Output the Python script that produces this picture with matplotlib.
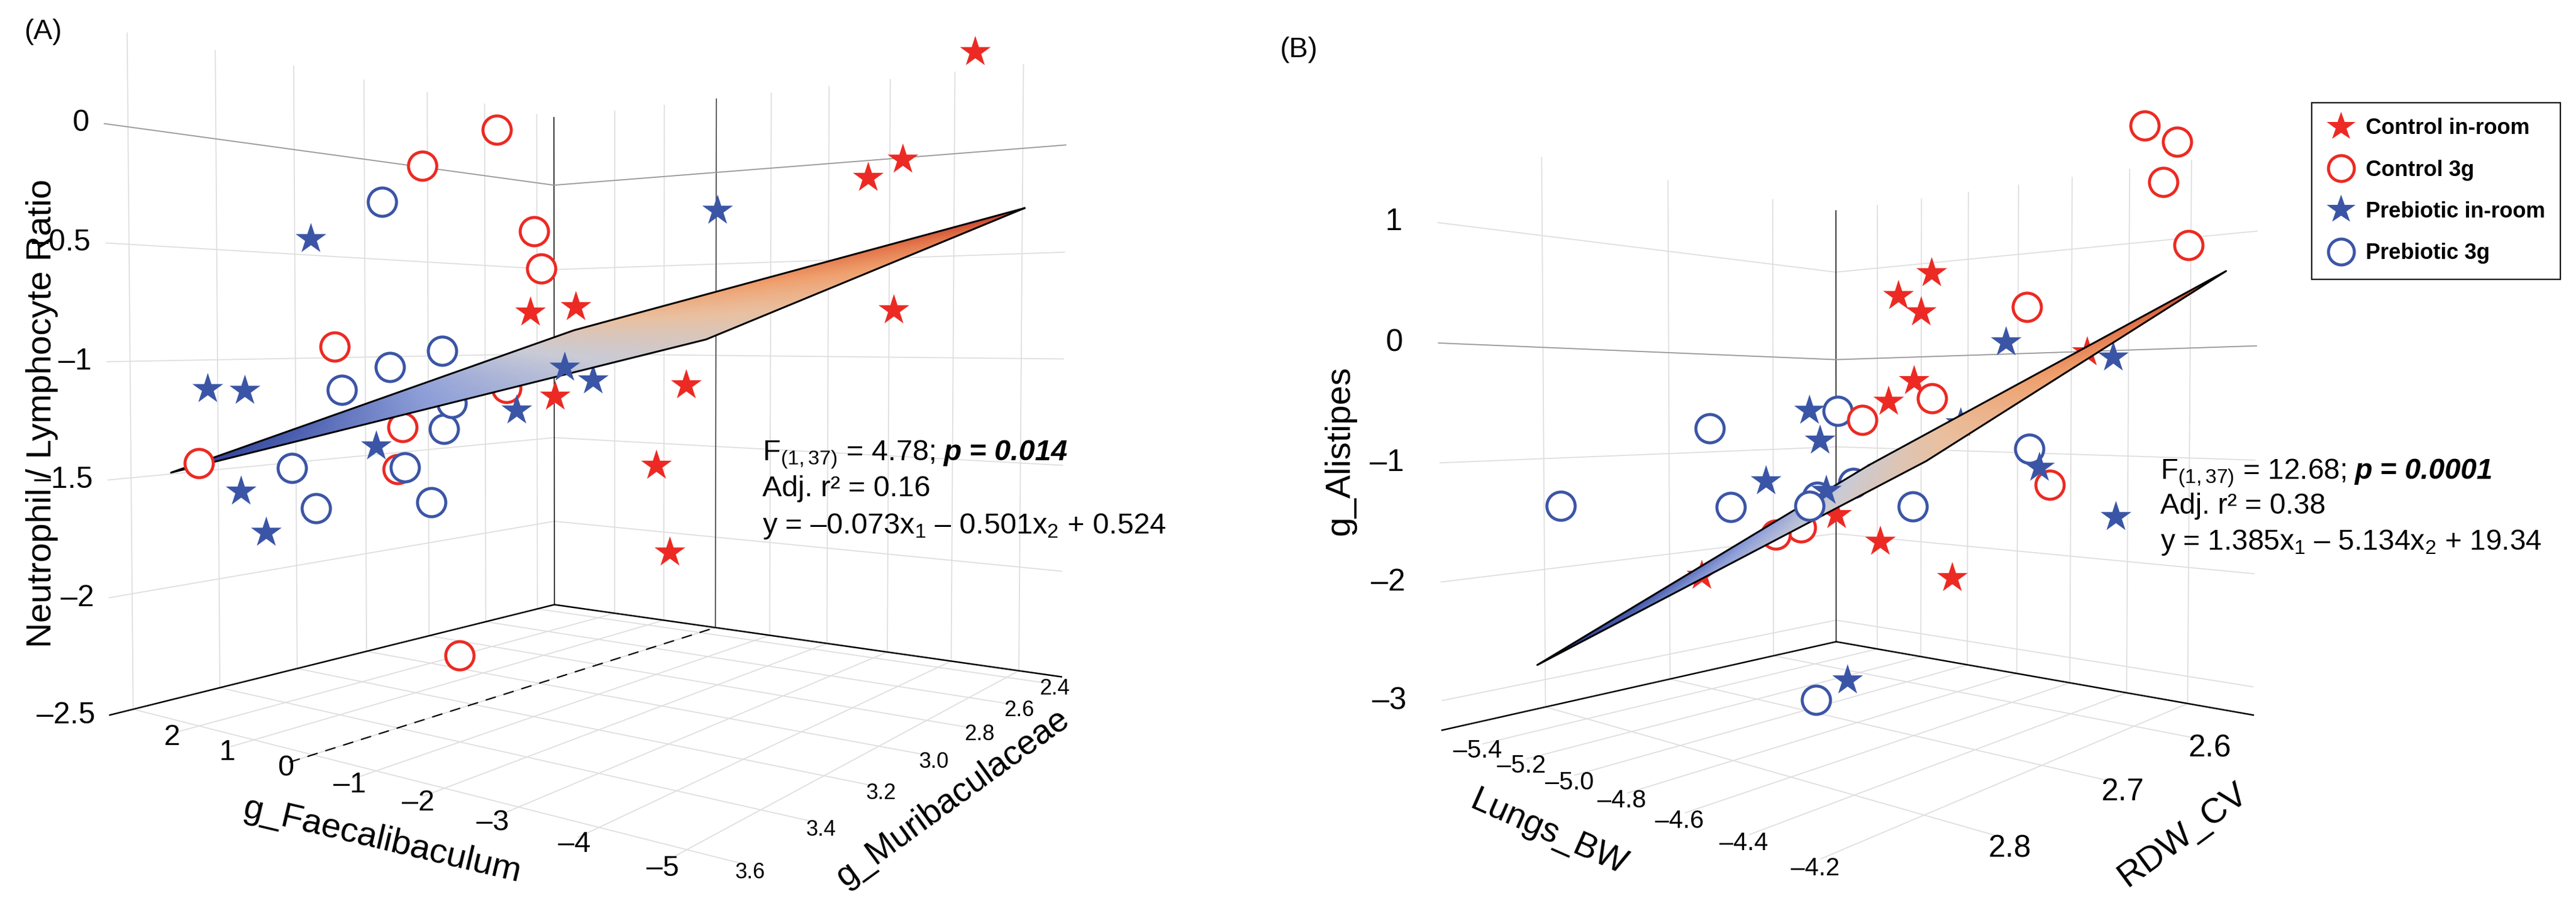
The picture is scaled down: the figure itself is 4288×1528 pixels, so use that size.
import numpy as np
import matplotlib
matplotlib.use('Agg')
import matplotlib.pyplot as plt
from matplotlib.colors import LinearSegmentedColormap, Normalize
from matplotlib.lines import Line2D
from matplotlib.ticker import FuncFormatter

plt.rcParams['font.family'] = ['Liberation Sans', 'DejaVu Sans']
plt.rcParams['mathtext.fontset'] = 'custom'
plt.rcParams['mathtext.rm'] = 'Liberation Sans'
plt.rcParams['mathtext.it'] = 'Liberation Sans:italic'
plt.rcParams['mathtext.bf'] = 'Liberation Sans:bold'

# ------------------------------------------------------------------ data
groups = ['Control in-room', 'Control 3g', 'Prebiotic in-room', 'Prebiotic 3g']

# Panel A : x1 = g_Faecalibaculum, x2 = g_Muribaculaceae, y = Neutrophil / Lymphocyte Ratio
a_ctrl_room_faec = [0.58, 0.45, -0.23, -4.49, -3.82, -3.50, -4.32, -2.89, -3.06, -3.87]
a_ctrl_room_murib = [2.92, 2.79, 2.99, 2.40, 2.53, 2.59, 2.73, 3.12, 3.25, 3.39]
a_ctrl_room_nlr = [-0.78, -0.75, -1.17, 0.45, -0.07, -0.16, -0.78, -1.09, -1.39, -1.66]

a_ctrl_3g_faec = [2.29, 2.64, 0.84, 0.01, 2.14, 0.23, 0.43, 1.88, 0.52, -1.73]
a_ctrl_3g_murib = [2.73, 2.92, 2.86, 2.99, 3.25, 3.06, 3.32, 3.61, 3.32, 3.52]
a_ctrl_3g_nlr = [0.19, -0.03, -0.38, -0.58, -0.94, -1.13, -1.28, -1.41, -1.46, -2.07]

a_preb_room_faec = [2.37, 1.96, 1.77, -3.17, 0.14, -0.29, 0.41, 1.36, 0.68, -1.11]
a_preb_room_murib = [3.28, 3.58, 3.52, 3.52, 2.79, 3.12, 3.39, 3.58, 3.61, 2.59]
a_preb_room_nlr = [-0.45, -1.11, -1.12, -1.00, -1.11, -1.22, -1.35, -1.52, -1.66, -0.27]

a_preb_3g_faec = [2.53, 1.01, 1.11, 1.51, 0.04, 0.98, 1.47, 0.52, -0.46, -0.88]
a_preb_3g_murib = [3.06, 3.12, 3.25, 3.32, 3.25, 3.12, 3.45, 3.52, 3.45, 3.45]
a_preb_3g_nlr = [-0.24, -0.96, -1.03, -1.13, -1.18, -1.32, -1.45, -1.58, -1.41, -1.54]

# fitted plane (panel A): y = b1*x1 + b2*x2 + b0
a_coef = (-0.073, -0.501, 0.524)
a_plane_faec = [-5.2, 2.5]
a_plane_murib = [2.4, 3.6]

# Panel B : x1 = Lungs_BW, x2 = RDW_CV, y = g_Alistipes
b_ctrl_room_lungs = [-4.65, -4.73, -4.76, -4.60, -4.61, -4.27, -4.75, -4.52, -4.23, -5.02]
b_ctrl_room_rdw = [2.67, 2.68, 2.65, 2.70, 2.72, 2.63, 2.73, 2.75, 2.77, 2.78]
b_ctrl_room_ali = [0.61, 0.42, 0.31, -0.32, -0.49, -0.08, -1.42, -1.56, -1.72, -1.92]

b_ctrl_3g_lungs = [-4.18, -4.13, -4.10, -4.14, -4.40, -4.54, -4.70, -4.79, -4.79, -4.24]
b_ctrl_3g_rdw = [2.60, 2.58, 2.61, 2.56, 2.65, 2.70, 2.72, 2.77, 2.75, 2.68]
b_ctrl_3g_ali = [1.82, 1.71, 1.30, 0.87, 0.30, -0.46, -0.64, -1.54, -1.51, -1.14]

b_preb_room_lungs = [-4.53, -4.27, -5.07, -4.94, -4.55, -4.21, -4.92, -4.83, -4.13, -4.42]
b_preb_room_rdw = [2.63, 2.60, 2.68, 2.70, 2.67, 2.70, 2.75, 2.72, 2.65, 2.80]
b_preb_room_ali = [0.03, -0.11, -0.57, -0.83, -0.67, -0.99, -1.15, -1.24, -1.40, -2.45]

b_preb_3g_lungs = [-5.00, -5.25, -5.25, -4.30, -5.06, -4.85, -5.39, -5.31, -4.53, -4.43]
b_preb_3g_rdw = [2.67, 2.73, 2.84, 2.68, 2.75, 2.73, 2.60, 2.58, 2.72, 2.82]
b_preb_3g_ali = [-0.57, -0.73, -1.33, -0.86, -1.39, -1.36, -1.48, -1.34, -1.32, -2.54]

b_coef = (1.385, -5.134, 19.34)
b_plane_lungs = [-5.36, -4.05]
b_plane_rdw = [2.55, 2.84]

# axis ticks
a_faec_ticks = [2, 1, 0, -1, -2, -3, -4, -5]
a_murib_ticks = [2.4, 2.6, 2.8, 3.0, 3.2, 3.4, 3.6]
a_nlr_ticks = [-2.5, -2, -1.5, -1, -0.5, 0]
b_lungs_ticks = [-5.4, -5.2, -5.0, -4.8, -4.6, -4.4, -4.2]
b_rdw_ticks = [2.6, 2.7, 2.8]
b_ali_ticks = [-3, -2, -1, 0, 1]

# ------------------------------------------------------------------ style
RED = '#EC2A23'
BLUE = '#3B55A6'
group_style = [('*', RED, True), ('o', RED, False), ('*', BLUE, True), ('o', BLUE, False)]
plane_cmap = LinearSegmentedColormap.from_list(
    'plane', ['#25348a', '#4b5fb0', '#8e9fd8', '#c9cbd6', '#e9c0a0',
              '#efa06e', '#e27449', '#c43b2c'])
GRID = '#dedede'

W, H = 4288, 1528
fig = plt.figure(figsize=(W / 100, H / 100), dpi=100)
fig.patch.set_facecolor('white')


def rect(cx, cy, S):
    return [(cx - S / 2) / W, 1 - (cy + S / 2) / H, S / W, S / H]


def px_text(x, y, s, **kw):
    return fig.text(x / W, 1 - y / H, s, **kw)


def fmt_g(v, p):
    return ('%g' % v).replace('-', '\u2013')


def fmt_1(v, p):
    return ('%.1f' % v).replace('-', '\u2013')


def style_axes(ax, lims, aspect, elev, azim, focal, zoom):
    ax.set_xlim(*lims[0])
    ax.set_ylim(*lims[1])
    ax.set_zlim(*lims[2])
    ax.set_box_aspect(aspect, zoom=zoom)
    ax.view_init(elev=elev, azim=azim)
    ax.set_proj_type('persp', focal_length=focal)
    for axis in (ax.xaxis, ax.yaxis, ax.zaxis):
        axis.set_pane_color((1, 1, 1, 1))
        axis.pane.set_edgecolor((1, 1, 1, 0))
        axis.line.set_color((0, 0, 0, 0))
        axis._axinfo['grid'].update({'color': GRID, 'linewidth': 1.3, 'linestyle': '-'})
        axis._axinfo['tick']['inward_factor'] = 0.0
        axis._axinfo['tick']['outward_factor'] = 0.0


def align_ticklabels(ax):
    for lab in ax.get_zticklabels():
        lab.set_horizontalalignment('right')
        lab.set_verticalalignment('center')
    for lab in list(ax.get_xticklabels()) + list(ax.get_yticklabels()):
        lab.set_verticalalignment('center')


def draw_points(ax, pts, lims, aspect, elev, azim, plane_fn):
    # pts: list of (x, y, z, group_index)
    e = np.array([np.cos(np.radians(elev)) * np.cos(np.radians(azim)),
                  np.cos(np.radians(elev)) * np.sin(np.radians(azim)),
                  np.sin(np.radians(elev))])
    asp = np.array(aspect, float)
    def depth(p):
        n = np.array([(p[i] - lims[i][0]) / (lims[i][1] - lims[i][0]) * asp[i] for i in range(3)])
        return float(n @ e)
    order = sorted(range(len(pts)), key=lambda k: depth(pts[k]))
    for rank, k in enumerate(order):
        x, y, z, g = pts[k]
        marker, col, filled = group_style[g]
        behind = z < plane_fn(x, y)
        zo = (2.0 if behind else 4.0) + rank * 1e-3
        if filled:
            ax.scatter([x], [y], [z], marker=marker, s=1500, c=col, edgecolors='none',
                       depthshade=False, zorder=zo)
        else:
            ax.scatter([x], [y], [z], marker=marker, s=1150, facecolors='white',
                       edgecolors=col, linewidths=3.6, depthshade=False, zorder=zo)


def draw_plane(ax, xr, yr, plane_fn):
    xs = np.linspace(xr[0], xr[1], 50)
    ys = np.linspace(yr[0], yr[1], 50)
    X, Y = np.meshgrid(xs, ys)
    Z = plane_fn(X, Y)
    norm = Normalize(Z.min(), Z.max())
    ax.plot_surface(X, Y, Z, facecolors=plane_cmap(norm(Z)), rstride=1, cstride=1,
                    shade=False, linewidth=0, antialiased=False, zorder=3)
    cx = [xr[0], xr[1], xr[1], xr[0], xr[0]]
    cy = [yr[0], yr[0], yr[1], yr[1], yr[0]]
    ax.plot(cx, cy, [plane_fn(a, b) for a, b in zip(cx, cy)], color='black', lw=2.2, zorder=3.5)


# ================================================================== Panel A
axA = fig.add_axes(rect(993, 642, 1750), projection='3d', computed_zorder=False)
limsA = [(-5.6, 3.3), (2.33, 3.65), (-2.5, 0.4)]
aspA = (1.05, 1.05, 1.0)
elA, azA = 1.5, 126
style_axes(axA, limsA, aspA, elA, azA, 0.25, 1.076)
planeA = lambda x, y: a_coef[0] * x + a_coef[1] * y + a_coef[2]

axA.set_xticks(a_faec_ticks)
axA.set_yticks(a_murib_ticks)
axA.set_zticks(a_nlr_ticks)
axA.xaxis.set_major_formatter(FuncFormatter(fmt_g))
axA.yaxis.set_major_formatter(FuncFormatter(fmt_1))
axA.zaxis.set_major_formatter(FuncFormatter(fmt_g))
axA.zaxis.set_ticks_position('upper')
axA.tick_params(axis='x', labelsize=35, pad=-4)
axA.tick_params(axis='y', labelsize=26, pad=-3)
axA.tick_params(axis='z', labelsize=36, pad=1)
align_ticklabels(axA)

# box lines
x0, x1_ = limsA[0]; y0, y1_ = limsA[1]; z0, z1_ = limsA[2]
axA.plot([x1_, x1_], [y1_, y0], [z0, z0], color='black', lw=1.8, zorder=1.5)
axA.plot([x1_, x0], [y0, y0], [z0, z0], color='black', lw=1.8, zorder=1.5)
axA.plot([x1_, x1_], [y0, y0], [z0, z1_], color='black', lw=1.1, zorder=1.5)
axA.plot([0, 0], [y0, y0], [z0, z1_], color='#333333', lw=1.1, zorder=1.5)
axA.plot([0, 0], [y1_, y0], [z0, z0], color='black', lw=1.6, ls=(0, (8, 6)), zorder=1.5)
axA.plot([x1_, x1_, x0], [y1_, y0, y0], [0, 0, 0], color='#9a9a9a', lw=1.3, zorder=1.5)

draw_plane(axA, a_plane_faec, a_plane_murib, planeA)
ptsA = []
for g, (xs, ys, zs) in enumerate([(a_ctrl_room_faec, a_ctrl_room_murib, a_ctrl_room_nlr),
                                   (a_ctrl_3g_faec, a_ctrl_3g_murib, a_ctrl_3g_nlr),
                                   (a_preb_room_faec, a_preb_room_murib, a_preb_room_nlr),
                                   (a_preb_3g_faec, a_preb_3g_murib, a_preb_3g_nlr)]):
    ptsA += [(a, b, c, g) for a, b, c in zip(xs, ys, zs)]
draw_points(axA, ptsA, limsA, aspA, elA, azA, planeA)

# axis titles (placed along the projected axes)
px_text(636, 1399, 'g_Faecalibaculum', fontsize=42, rotation=-13.3, ha='center', va='center',
        rotation_mode='anchor')
px_text(1586, 1328, 'g_Muribaculaceae', fontsize=41, rotation=36, ha='center', va='center',
        rotation_mode='anchor')
px_text(70, 688, 'Neutrophil / Lymphocyte Ratio', fontsize=42, rotation=90, ha='center',
        va='center', rotation_mode='anchor')

# ================================================================== Panel B
axB = fig.add_axes(rect(3068, 748, 1750), projection='3d', computed_zorder=False)
limsB = [(2.53, 2.87), (-5.6, -4.0), (-3.25, 1.7)]   # x = RDW_CV, y = Lungs_BW
aspB = (1.0, 1.0, 1.0)
elB, azB = 1.5, 41
style_axes(axB, limsB, aspB, elB, azB, 0.21, 0.925)
planeB = lambda rdw, lungs: b_coef[0] * lungs + b_coef[1] * rdw + b_coef[2]

axB.set_xticks(b_rdw_ticks)
axB.set_yticks(b_lungs_ticks)
axB.set_zticks(b_ali_ticks)
axB.xaxis.set_major_formatter(FuncFormatter(fmt_1))
axB.yaxis.set_major_formatter(FuncFormatter(fmt_1))
axB.zaxis.set_major_formatter(FuncFormatter(fmt_g))
axB.tick_params(axis='x', labelsize=37, pad=0)
axB.tick_params(axis='y', labelsize=30, pad=-2)
axB.tick_params(axis='z', labelsize=37, pad=19)
align_ticklabels(axB)

x0, x1_ = limsB[0]; y0, y1_ = limsB[1]; z0, z1_ = limsB[2]
axB.plot([x0, x1_], [y0, y0], [z0, z0], color='black', lw=1.8, zorder=1.5)
axB.plot([x0, x0], [y0, y1_], [z0, z0], color='black', lw=1.8, zorder=1.5)
axB.plot([x0, x0], [y0, y0], [z0, z1_], color='black', lw=1.1, zorder=1.5)
axB.plot([x1_, x0, x0], [y0, y0, y1_], [0, 0, 0], color='#9a9a9a', lw=1.3, zorder=1.5)

draw_plane(axB, b_plane_rdw, b_plane_lungs, planeB)
ptsB = []
for g, (ls_, rs_, zs) in enumerate([(b_ctrl_room_lungs, b_ctrl_room_rdw, b_ctrl_room_ali),
                                     (b_ctrl_3g_lungs, b_ctrl_3g_rdw, b_ctrl_3g_ali),
                                     (b_preb_room_lungs, b_preb_room_rdw, b_preb_room_ali),
                                     (b_preb_3g_lungs, b_preb_3g_rdw, b_preb_3g_ali)]):
    ptsB += [(r, l, c, g) for l, r, c in zip(ls_, rs_, zs)]
draw_points(axB, ptsB, limsB, aspB, elB, azB, planeB)

px_text(2578, 1387, 'Lungs_BW', fontsize=41, rotation=-23.8, ha='center', va='center',
        rotation_mode='anchor')
px_text(3634, 1390, 'RDW_CV', fontsize=42, rotation=36.4, ha='center', va='center',
        rotation_mode='anchor')
px_text(2231, 750, 'g_Alistipes', fontsize=42, rotation=90, ha='center', va='center',
        rotation_mode='anchor')

# ================================================================== texts
px_text(40, 53, '(A)', fontsize=34, va='center', ha='left')
px_text(2130, 83, '(B)', fontsize=34, va='center', ha='left')


def stats_block(x, ys, fval, pval, r2, eq, size):
    t1 = px_text(x, ys[0], r'F$_{\mathrm{(1,37)}}$ = ' + fval + ';',
                 fontsize=size, va='baseline', ha='left')
    fig.canvas.draw()
    bb = t1.get_window_extent()
    fig.text((bb.x1 + 14) / W, 1 - ys[0] / H, 'p = ' + pval, fontsize=size,
             fontweight='bold', fontstyle='italic', va='baseline', ha='left')
    px_text(x, ys[1], 'Adj. r\u00b2 = ' + r2, fontsize=size, va='baseline', ha='left')
    px_text(x, ys[2], eq, fontsize=size, va='baseline', ha='left')


stats_block(1269, (766, 826, 888), '4.78', '0.014', '0.16',
            'y = \u20130.073x$_1$ \u2013 0.501x$_2$ + 0.524', 35)
stats_block(3596, (797, 855, 915), '12.68', '0.0001', '0.38',
            'y = 1.385x$_1$ \u2013 5.134x$_2$ + 19.34', 34.5)

# legend
handles = []
for marker, col, filled in group_style:
    if filled:
        handles.append(Line2D([], [], marker=marker, color=col, linestyle='None', markersize=36,
                              markeredgewidth=0))
    else:
        handles.append(Line2D([], [], marker=marker, markerfacecolor='white', markeredgecolor=col,
                              markeredgewidth=3.6, linestyle='None', markersize=31))
leg = fig.legend(handles, groups, loc='upper left', bbox_to_anchor=(3830 / W, 1 - 153 / H),
                 bbox_transform=fig.transFigure, frameon=True, fancybox=False,
                 edgecolor='black', framealpha=1,
                 prop={'family': ['Liberation Sans Narrow', 'Liberation Sans'],
                       'weight': 'bold', 'size': 26},
                 borderpad=0.7, labelspacing=0.95, handletextpad=0.5, handlelength=1.3)
leg.get_frame().set_linewidth(1.6)

fig.savefig('out.png', dpi=100, facecolor='white')
